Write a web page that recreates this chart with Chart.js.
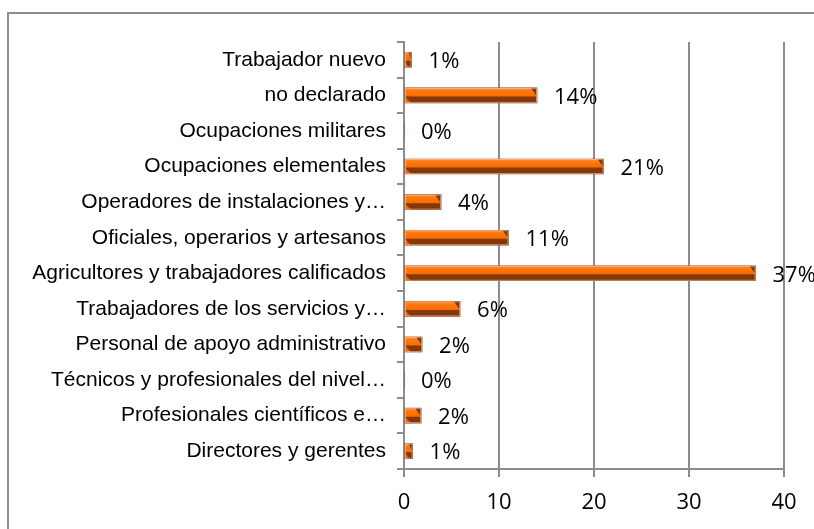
<!DOCTYPE html>
<html>
<head>
<meta charset="utf-8">
<script src="https://cdn.jsdelivr.net/npm/chart.js@4.4.1/dist/chart.umd.min.js"></script>
<style>
  body { margin: 0; background: #fff; overflow: hidden; }
  #frame { position: absolute; left: 7px; top: 12px; width: 1000px; height: 1000px; border: 2px solid #8c8c8c; }
  #wrap { position: absolute; left: 0; top: 0; width: 814px; height: 529px; }
</style>
</head>
<body>
<div id="frame"></div>
<div id="wrap"><canvas id="ocupChart" width="814" height="529"></canvas></div>
<script>
// categorias, de arriba hacia abajo como en el grafico
var categories = [
  "Trabajador nuevo",
  "no declarado",
  "Ocupaciones militares",
  "Ocupaciones elementales",
  "Operadores de instalaciones y…",
  "Oficiales, operarios y artesanos",
  "Agricultores y trabajadores calificados",
  "Trabajadores de los servicios y…",
  "Personal de apoyo administrativo",
  "Técnicos y profesionales del nivel…",
  "Profesionales científicos e…",
  "Directores y gerentes"
];
var values = [0.8, 14, 0, 21, 3.9, 11, 37, 5.9, 1.9, 0, 1.8, 0.9];
var pctLabels = ["1%", "14%", "0%", "21%", "4%", "11%", "37%", "6%", "2%", "0%", "2%", "1%"];
var xTicks = [0, 10, 20, 30, 40];

var gridGray = "#8c8c8c";

// dibuja el efecto 3D y las etiquetas de porcentaje
var barDeco = {
  id: "barDeco",
  afterDatasetsDraw: function (chart) {
    var ctx = chart.ctx;
    var meta = chart.getDatasetMeta(0);
    meta.data.forEach(function (bar, i) {
      var top = bar.y - bar.height / 2;
      var bottom = bar.y + bar.height / 2;
      var mid = bar.y + 1;
      var x0 = bar.base;
      var x1 = bar.x;
      var w = x1 - x0;
      ctx.save();
      if (w > 0.5) {
        var cap = Math.min(6, w / 2);
        var g = ctx.createLinearGradient(0, top, 0, mid);
        g.addColorStop(0, "#ff9040");
        g.addColorStop(0.35, "#ff780c");
        g.addColorStop(1, "#f86c00");
        ctx.fillStyle = g;
        ctx.beginPath();
        ctx.moveTo(x0, top);
        ctx.lineTo(x1 - cap, top);
        ctx.lineTo(x1, mid);
        ctx.lineTo(x0, mid);
        ctx.closePath();
        ctx.fill();
        // cuna inferior izquierda
        ctx.fillStyle = "#e8650a";
        ctx.beginPath();
        ctx.moveTo(x0, mid);
        ctx.lineTo(x0 + cap, bottom);
        ctx.lineTo(x0, bottom);
        ctx.closePath();
        ctx.fill();
        ctx.strokeStyle = "rgba(250,200,165,0.6)";
        ctx.lineWidth = 1;
        ctx.strokeRect(x0 + 0.5, top + 0.5, w - 1, bottom - top - 1);
      }
      ctx.fillStyle = "#000";
      ctx.font = "22px 'Open Sans'";
      ctx.textAlign = "left";
      ctx.textBaseline = "middle";
      ctx.fillText(pctLabels[i], x1 + 17, bar.y + 2);
      ctx.restore();
    });
  }
};

var ctx = document.getElementById("ocupChart").getContext("2d");
var chart = new Chart(ctx, {
  type: "bar",
  data: {
    labels: categories,
    datasets: [
      {
        data: values,
        backgroundColor: "#843708",
        borderWidth: 0,
        barThickness: 15,
      },
    ],
  },
  options: {
    indexAxis: "y",
    responsive: false,
    animation: false,
    layout: { padding: { top: 42, right: 30, left: 0, bottom: 0 } },
    plugins: {
      legend: { display: false },
      tooltip: { enabled: false },
    },
    scales: {
      x: {
        min: 0,
        max: 40,
        afterBuildTicks: function (scale) {
          scale.ticks = xTicks.map(function (v) { return { value: v }; });
        },
        afterFit: function (scale) { scale.height = 60; },
        grid: { color: gridGray, lineWidth: 2, tickLength: 8 },
        border: { color: gridGray, width: 2 },
        ticks: {
          color: "#000",
          padding: 13,
          font: { family: "'Open Sans'", size: 22 },
        },
      },
      y: {
        afterFit: function (scale) { scale.width = 404; },
        grid: { drawOnChartArea: false, color: gridGray, lineWidth: 2, tickLength: 7 },
        border: { color: gridGray, width: 2 },
        ticks: {
          color: "#000",
          padding: 11,
          autoSkip: false,
          font: { family: "'Liberation Sans', Arial", size: 21 },
        },
      },
    },
  },
  plugins: [barDeco],
});
</script>
</body>
</html>
